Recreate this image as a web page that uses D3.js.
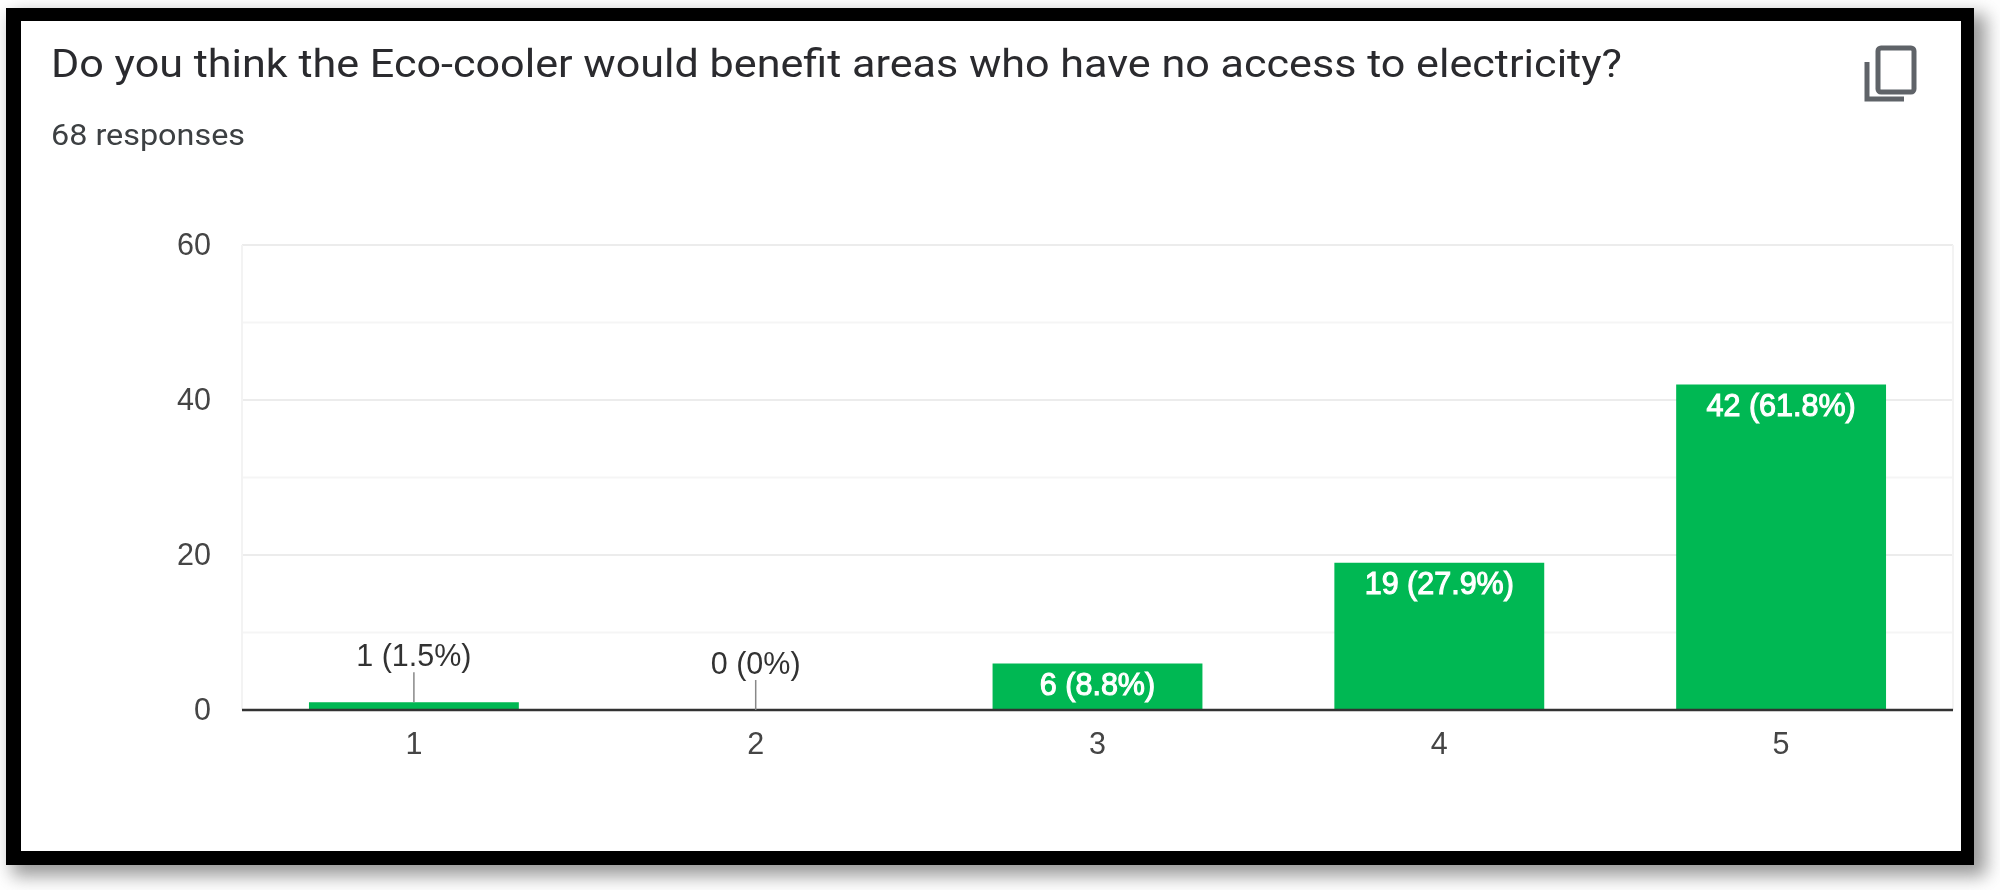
<!DOCTYPE html>
<html>
<head>
<meta charset="utf-8">
<script src="https://cdn.jsdelivr.net/npm/d3@7"></script>
<style>
  html, body { margin: 0; padding: 0; background: #fff; }
  svg { display: block; }
  .tick-label { font-family: "Liberation Sans", Arial, sans-serif; font-size: 30.5px; fill: #444; }
</style>
</head>
<body>
<div id="chart"></div>
<script>
const title = "Do you think the Eco-cooler would benefit areas who have no access to electricity?";
const subtitle = "68 responses";
const categories = ["1", "2", "3", "4", "5"];
const counts = [1, 0, 6, 19, 42];
const percents = ["1.5%", "0%", "8.8%", "27.9%", "61.8%"];
const yTicks = [0, 20, 40, 60];
const yMinorTicks = [10, 30, 50];

const width = 2000, height = 890;
const plot = { left: 242, right: 1953, top: 245, bottom: 710 };

const svg = d3.select("#chart").append("svg")
    .attr("width", width)
    .attr("height", height);

const defs = svg.append("defs");
defs.append("filter").attr("id", "shadow")
    .attr("x", "-5%").attr("y", "-5%").attr("width", "110%").attr("height", "110%")
    .append("feGaussianBlur").attr("stdDeviation", 9);
defs.append("filter").attr("id", "soft")
    .append("feGaussianBlur").attr("stdDeviation", 0.7);

// frame with its drop shadow
svg.append("rect")
    .attr("x", 12).attr("y", 14).attr("width", 1974).attr("height", 862)
    .attr("fill", "#999").attr("filter", "url(#shadow)");
svg.append("rect")
    .attr("x", 6).attr("y", 8).attr("width", 1968).attr("height", 857)
    .attr("fill", "#000");
svg.append("rect")
    .attr("x", 21).attr("y", 21).attr("width", 1940).attr("height", 830)
    .attr("fill", "#fff");

const root = svg.append("g").attr("filter", "url(#soft)");

// the screenshot is stretched sideways, so the text is fitted to its width
root.append("text")
    .attr("x", 51).attr("y", 77)
    .attr("font-family", "Roboto, sans-serif")
    .attr("font-size", 38)
    .attr("fill", "#2b2c2f")
    .attr("textLength", 1571)
    .attr("lengthAdjust", "spacingAndGlyphs")
    .text(title);

root.append("text")
    .attr("x", 51).attr("y", 145)
    .attr("font-family", "Roboto, sans-serif")
    .attr("font-size", 30)
    .attr("fill", "#3c4043")
    .attr("textLength", 194)
    .attr("lengthAdjust", "spacingAndGlyphs")
    .text(subtitle);

// copy icon
const icon = root.append("g")
    .attr("fill", "none")
    .attr("stroke", "#5f6368")
    .attr("stroke-width", 5);
icon.append("rect")
    .attr("x", 1878).attr("y", 48).attr("width", 36).attr("height", 44).attr("rx", 3);
icon.append("path")
    .attr("d", "M1867 62V99H1904");

const x = d3.scaleBand()
    .domain(categories)
    .range([plot.left + 1, plot.right - 1])
    .paddingInner(0.386)
    .paddingOuter(0.193);

const y = d3.scaleLinear()
    .domain([0, 60])
    .range([plot.bottom, plot.top]);

// gridlines
root.append("g").selectAll("line").data(yMinorTicks).join("line")
    .attr("x1", plot.left).attr("x2", plot.right)
    .attr("y1", d => y(d)).attr("y2", d => y(d))
    .attr("stroke", "#f5f5f5").attr("stroke-width", 2);
root.append("g").selectAll("line").data(yTicks).join("line")
    .attr("x1", plot.left).attr("x2", plot.right)
    .attr("y1", d => y(d)).attr("y2", d => y(d))
    .attr("stroke", "#ececec").attr("stroke-width", 2);
root.append("g").selectAll("line").data([plot.left, plot.right]).join("line")
    .attr("x1", d => d).attr("x2", d => d)
    .attr("y1", plot.top).attr("y2", plot.bottom)
    .attr("stroke", "#f3f3f3").attr("stroke-width", 2);

// axes
const yAxis = root.append("g")
    .attr("transform", `translate(${plot.left},0)`)
    .call(d3.axisLeft(y).tickValues(yTicks).tickSize(0).tickPadding(31));
yAxis.select(".domain").remove();
yAxis.selectAll("text").attr("class", "tick-label");

const xAxis = root.append("g")
    .attr("transform", `translate(0,${plot.bottom})`)
    .call(d3.axisBottom(x).tickSize(0).tickPadding(22));
xAxis.select(".domain").remove();
xAxis.selectAll("text").attr("class", "tick-label");

// bars
const rows = categories.map((c, i) => ({ cat: c, count: counts[i], label: `${counts[i]} (${percents[i]})` }));

root.append("g").selectAll("rect").data(rows).join("rect")
    .attr("x", d => x(d.cat))
    .attr("y", d => y(d.count))
    .attr("width", x.bandwidth())
    .attr("height", d => y(0) - y(d.count))
    .attr("fill", "#00b852");

root.append("line")
    .attr("x1", plot.left).attr("x2", plot.right)
    .attr("y1", plot.bottom).attr("y2", plot.bottom)
    .attr("stroke", "#333").attr("stroke-width", 2.5);

// small bars get a leader line with the label above, big ones hold it inside
const isSmall = d => d.count < 3;

root.append("g").selectAll("line").data(rows.filter(isSmall)).join("line")
    .attr("x1", d => x(d.cat) + x.bandwidth() / 2)
    .attr("x2", d => x(d.cat) + x.bandwidth() / 2)
    .attr("y1", d => y(d.count))
    .attr("y2", d => y(d.count) - 30)
    .attr("stroke", "#888").attr("stroke-width", 1.5);

root.append("g").selectAll("text").data(rows).join("text")
    .attr("class", "tick-label")
    .attr("text-anchor", "middle")
    .attr("x", d => x(d.cat) + x.bandwidth() / 2)
    .attr("y", d => isSmall(d) ? y(d.count) - 36 : y(d.count) + 31)
    .style("fill", d => isSmall(d) ? "#333" : "#fff")
    .style("stroke", d => isSmall(d) ? "none" : "#fff")
    .style("stroke-width", 1.1)
    .text(d => d.label);
</script>
</body>
</html>
